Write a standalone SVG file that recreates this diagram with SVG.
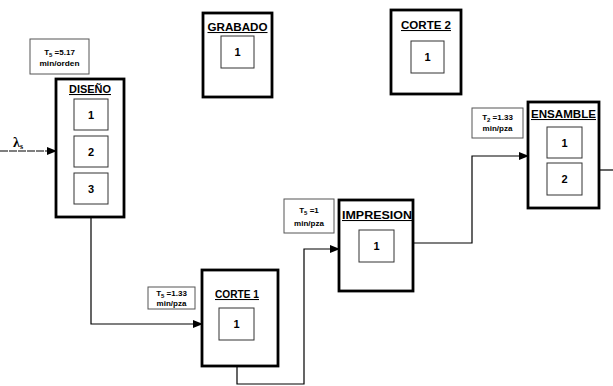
<svg xmlns="http://www.w3.org/2000/svg" width="613" height="386" viewBox="0 0 613 386">
<style>
.outer{fill:#fff;stroke:#000;stroke-width:2.8}
.inner{fill:#fff;stroke:#333;stroke-width:1}
.lbl{fill:#fff;stroke:#555;stroke-width:1}
.title{font-family:"Liberation Sans",Arial,sans-serif;font-weight:bold;font-size:10.5px;text-decoration:underline;text-anchor:middle}
.num{font-family:"Liberation Sans",Arial,sans-serif;font-weight:bold;font-size:11px;text-anchor:middle}
.small{font-family:"Liberation Sans",Arial,sans-serif;font-weight:bold;font-size:8px;text-anchor:middle;fill:#000}
.sub{font-size:6px}
.conn{fill:none;stroke:#000;stroke-width:1.2}
</style>
<defs>
<marker id="arr" markerWidth="10" markerHeight="8" refX="9" refY="4" orient="auto" markerUnits="userSpaceOnUse">
<path d="M0,0 L10,4 L0,8 Z" fill="#000"/>
</marker>
</defs>
<rect width="613" height="386" fill="#fff"/>
<g id="connectors">
<path class="conn" d="M0,151 L56,151" stroke-dasharray="8,1" marker-end="url(#arr)"/>
<path class="conn" d="M91,217 L91,324 L202,324" marker-end="url(#arr)"/>
<path class="conn" d="M237,366 L237,384 L304,384 L304,249 L339,249" marker-end="url(#arr)"/>
<path class="conn" d="M413,243 L472,243 L472,156 L528,156" marker-end="url(#arr)"/>
<path class="conn" d="M599,170 L613,170"/>
</g>
<g id="lambda">
<text x="13" y="147" font-family="'Liberation Serif',serif" font-weight="bold" font-size="14">λ<tspan font-size="8" dy="2">s</tspan></text>
</g>
<g id="diseno">
<rect class="lbl" x="30" y="39" width="59" height="35"/>
<text class="small" x="59.5" y="55">T<tspan class="sub" dy="2">5</tspan><tspan dy="-2"> =5.17</tspan></text>
<text class="small" x="59.5" y="66" textLength="40" lengthAdjust="spacingAndGlyphs">min/orden</text>
<rect class="outer" x="56" y="79" width="68" height="138"/>
<text class="title" x="90" y="93" textLength="42" lengthAdjust="spacingAndGlyphs">DISEÑO</text>
<rect class="inner" x="74" y="99" width="34" height="31"/>
<text class="num" x="91" y="118.5">1</text>
<rect class="inner" x="74" y="136" width="34" height="31"/>
<text class="num" x="91" y="155.5">2</text>
<rect class="inner" x="74" y="173" width="34" height="31"/>
<text class="num" x="91" y="192.5">3</text>
</g>
<g id="grabado">
<rect class="outer" x="203" y="13" width="69" height="84"/>
<text class="title" x="237.5" y="31" textLength="60" lengthAdjust="spacingAndGlyphs">GRABADO</text>
<rect class="inner" x="221" y="36" width="33" height="32"/>
<text class="num" x="237.5" y="56">1</text>
</g>
<g id="corte2">
<rect class="outer" x="391" y="10" width="70" height="84"/>
<text class="title" x="426" y="29" textLength="50" lengthAdjust="spacingAndGlyphs">CORTE 2</text>
<rect class="inner" x="411" y="41" width="33" height="32"/>
<text class="num" x="427.5" y="61">1</text>
</g>
<g id="corte1">
<rect class="lbl" x="148" y="287" width="47" height="22"/>
<text class="small" x="171.5" y="296">T<tspan class="sub" dy="2">5</tspan><tspan dy="-2"> =1.33</tspan></text>
<text class="small" x="171.5" y="306">min/pza</text>
<rect class="outer" x="202" y="270" width="76" height="96"/>
<text class="title" x="237" y="298" textLength="44" lengthAdjust="spacingAndGlyphs">CORTE 1</text>
<rect class="inner" x="219" y="308" width="35" height="32"/>
<text class="num" x="236.5" y="328">1</text>
</g>
<g id="impresion">
<rect class="lbl" x="284" y="199" width="50" height="34"/>
<text class="small" x="309" y="213">T<tspan class="sub" dy="2">5</tspan><tspan dy="-2"> =1</tspan></text>
<text class="small" x="309" y="226">min/pza</text>
<rect class="outer" x="339" y="200" width="74" height="91"/>
<text class="title" x="377" y="219" textLength="70" lengthAdjust="spacingAndGlyphs">IMPRESION</text>
<rect class="inner" x="359" y="230" width="35" height="32"/>
<text class="num" x="376.5" y="250">1</text>
</g>
<g id="ensamble">
<rect class="lbl" x="472" y="108" width="51" height="30"/>
<text class="small" x="497.5" y="120">T<tspan class="sub" dy="2">2</tspan><tspan dy="-2"> =1.33</tspan></text>
<text class="small" x="497.5" y="131">min/pza</text>
<rect class="outer" x="528" y="102" width="71" height="106"/>
<text class="title" x="563.5" y="118" textLength="65" lengthAdjust="spacingAndGlyphs">ENSAMBLE</text>
<rect class="inner" x="547" y="127" width="35" height="31"/>
<text class="num" x="564.5" y="146.5">1</text>
<rect class="inner" x="547" y="163" width="35" height="32"/>
<text class="num" x="564.5" y="183">2</text>
</g>
</svg>
